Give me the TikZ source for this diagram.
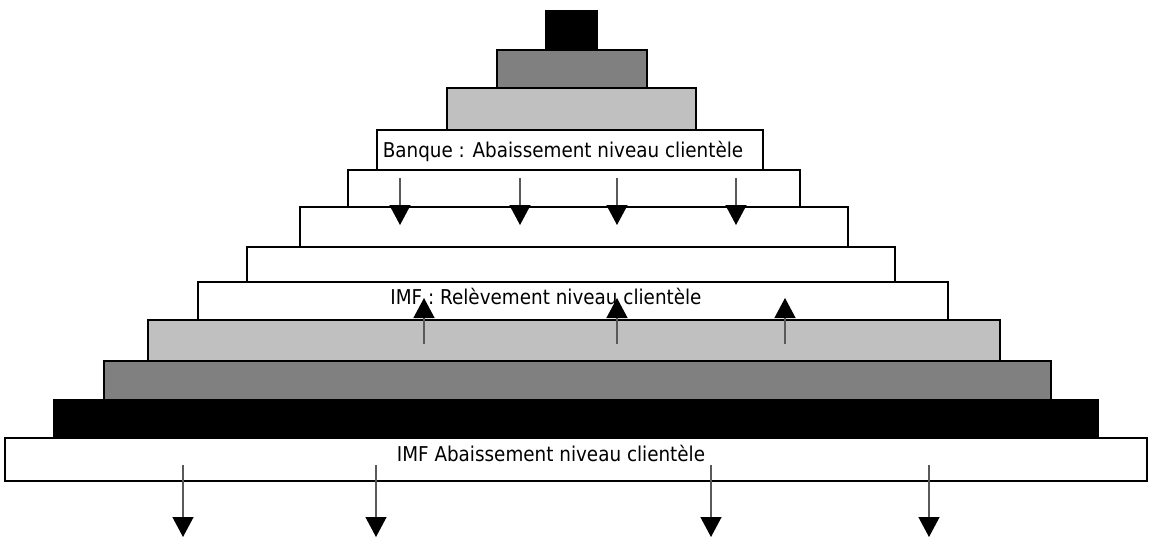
\documentclass[tikz,border=0pt]{standalone}
\usepackage{fontspec}
\setmainfont[FakeStretch=0.9]{DejaVu Sans}
\usepackage{tikz}
\usetikzlibrary{arrows.meta}

\definecolor{lightgrey}{HTML}{C0C0C0}
\definecolor{midgrey}{HTML}{808080}

\begin{document}
\begin{tikzpicture}[
    x=1pt, y=-1pt,
    layer/.style={draw, line width=2.6pt, rectangle, inner sep=0pt, outer sep=0pt},
    lbl/.style={font=\fontsize{20.4}{24}\selectfont, inner sep=0pt, anchor=base},
    arr/.style={-{Triangle[width=21pt, length=20pt, color=black]}, line width=1.3pt, draw=black!65}
]
\useasboundingbox (0,0) rectangle (1151,539);

% pyramid, top to bottom
\node[layer, fill=black, minimum width=51pt, minimum height=39pt] (l1) at (571.5,30.5) {};
\node[layer, fill=midgrey, minimum width=150pt, minimum height=38pt] (l2) at (572,69) {};
\node[layer, fill=lightgrey, minimum width=249pt, minimum height=42pt] (l3) at (571.5,109) {};
\node[layer, fill=white, minimum width=386pt, minimum height=40pt] (banque) at (570,150) {};
\node[layer, fill=white, minimum width=452pt, minimum height=37pt] (l5) at (574,188.5) {};
\node[layer, fill=white, minimum width=548pt, minimum height=40pt] (l6) at (574,227) {};
\node[layer, fill=white, minimum width=648pt, minimum height=35pt] (l7) at (571,264.5) {};
\node[layer, fill=white, minimum width=750pt, minimum height=38pt] (imfup) at (573,301) {};
\node[layer, fill=lightgrey, minimum width=852pt, minimum height=41pt] (l9) at (574,340.5) {};
\node[layer, fill=midgrey, minimum width=947pt, minimum height=39pt] (l10) at (577.5,380.5) {};
\node[layer, fill=black, minimum width=1044pt, minimum height=38pt] (l11) at (576,419) {};
\node[layer, fill=white, minimum width=1142pt, minimum height=43pt] (imfdown) at (576,459.5) {};

% texts
\node[lbl] (tbanque) at (563,157) {Banque : Abaissement niveau clientèle};
\node[lbl] (timfup) at (546,304) {IMF : Relèvement niveau clientèle};
\node[lbl] (timfdown) at (551,461) {IMF Abaissement niveau clientèle};

% down arrows, bank
\coordinate (d1a) at (400,178); \coordinate (d1b) at (400,225);
\coordinate (d2a) at (520,178); \coordinate (d2b) at (520,225);
\coordinate (d3a) at (617,178); \coordinate (d3b) at (617,225);
\coordinate (d4a) at (736,178); \coordinate (d4b) at (736,225);
\draw[arr] (d1a) -- (d1b);
\draw[arr] (d2a) -- (d2b);
\draw[arr] (d3a) -- (d3b);
\draw[arr] (d4a) -- (d4b);

% up arrows, IMF
\coordinate (u1a) at (424,344); \coordinate (u1b) at (424,298);
\coordinate (u2a) at (617,344); \coordinate (u2b) at (617,298);
\coordinate (u3a) at (785,344); \coordinate (u3b) at (785,298);
\draw[arr] (u1a) -- (u1b);
\draw[arr] (u2a) -- (u2b);
\draw[arr] (u3a) -- (u3b);

% down arrows, bottom
\coordinate (b1a) at (183,465); \coordinate (b1b) at (183,537);
\coordinate (b2a) at (376,465); \coordinate (b2b) at (376,537);
\coordinate (b3a) at (711,465); \coordinate (b3b) at (711,537);
\coordinate (b4a) at (929,465); \coordinate (b4b) at (929,537);
\draw[arr] (b1a) -- (b1b);
\draw[arr] (b2a) -- (b2b);
\draw[arr] (b3a) -- (b3b);
\draw[arr] (b4a) -- (b4b);
\end{tikzpicture}
\end{document}
